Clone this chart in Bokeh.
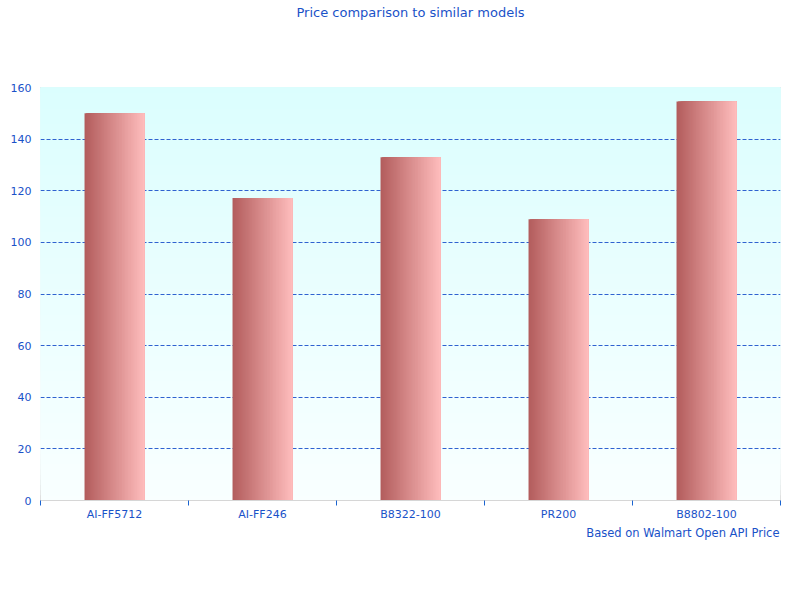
from bokeh.plotting import figure
from bokeh.models import (FactorRange, Range1d, LinearAxis, FixedTicker, Title,
                          BoxAnnotation, ColumnDataSource)
from bokeh.transform import dodge
from bokeh.embed import file_html
from bokeh.resources import INLINE

# ---- data ----
models = ["AI-FF5712", "AI-FF246", "B8322-100", "PR200", "B8802-100"]
prices = [150.0, 117.2, 133.0, 109.0, 154.6]
y_ticks = [0, 20, 40, 60, 80, 100, 120, 140, 160]
title_text = "Price comparison to similar models"
footer_text = "Based on Walmart Open API Price"

# ---- style ----
TEXT = "#1a52c8"
GRID = "#2f62d0"
FONT = "DejaVu Sans"
BAR_L = (178, 92, 92)
BAR_R = (255, 189, 189)
BG_TOP = (219, 254, 254)
BG_BOT = (249, 255, 255)


def mix(a, b, t):
    return "#%02x%02x%02x" % tuple(int(round(a[k] + (b[k] - a[k]) * t)) for k in range(3))


n = len(models)
p = figure(width=784, height=584,
           x_range=FactorRange(factors=models),
           y_range=Range1d(y_ticks[0], y_ticks[-1]),
           x_axis_location=None,
           toolbar_location=None, output_backend="svg",
           min_border_left=40, min_border_right=4,
           min_border_top=86, min_border_bottom=84,
           border_fill_color="white", background_fill_color="white",
           outline_line_color="#d6d6d6", outline_line_width=1)

# background vertical gradient (overlapping strips, drawn bottom first)
NB = 80
ymax = y_ticks[-1]
for i in range(NB):
    b = ymax * i / NB
    p.add_layout(BoxAnnotation(bottom=b, top=ymax,
                               fill_color=mix(BG_BOT, BG_TOP, (i + 0.5) / NB),
                               fill_alpha=1.0, line_color=None, level="image"))

# grid
p.xgrid.visible = False
p.ygrid.ticker = FixedTicker(ticks=y_ticks[1:-1])
p.ygrid.grid_line_color = GRID
p.ygrid.grid_line_dash = "4 2"
p.ygrid.grid_line_width = 1

# bars with horizontal gradient
src = ColumnDataSource(dict(model=models, price=prices))
W = 0.405
NS = 40
for i in range(NS):
    left = -W / 2 + i * W / NS
    off = (left + W / 2) / 2
    wid = W / 2 - left
    p.vbar(x=dodge("model", off, range=p.x_range), top="price", width=wid,
           source=src, fill_color=mix(BAR_L, BAR_R, (i + 0.5) / NS),
           line_color=None)

# y axis
ya = p.yaxis[0]
ya.ticker = FixedTicker(ticks=y_ticks)
ya.axis_line_color = None
ya.major_tick_line_color = None
ya.minor_tick_line_color = None
ya.major_tick_out = 0
ya.major_tick_in = 0
ya.major_label_standoff = 9
ya.major_label_text_font = FONT
ya.major_label_text_font_size = "11px"
ya.major_label_text_color = TEXT

# x axis: labels at category centres, ticks at boundaries (synthetic coords)
xa = LinearAxis(ticker=FixedTicker(ticks=[i + 0.5 for i in range(n)],
                                   minor_ticks=list(range(n + 1))),
                major_label_overrides={i + 0.5: m for i, m in enumerate(models)})
xa.axis_line_color = "#d6d6d6"
xa.major_tick_line_color = None
xa.major_tick_out = 0
xa.major_tick_in = 0
xa.minor_tick_line_color = "#1a64d0"
xa.minor_tick_in = 0
xa.minor_tick_out = 5
xa.major_label_standoff = 2
xa.major_label_text_font = FONT
xa.major_label_text_font_size = "11px"
xa.major_label_text_color = TEXT
p.add_layout(xa, "below")

# blank spacer between frame and title, pushes the title to the top edge
p.add_layout(Title(text=" ", text_font=FONT, text_font_size="1px",
                   standoff=63), "above")

# title and footer
p.add_layout(Title(text=title_text, align="center", text_font=FONT,
                   text_font_size="13px", text_font_style="normal",
                   text_color=TEXT, standoff=4), "above")
p.add_layout(Title(text=footer_text, align="right", text_font=FONT,
                   text_font_size="11.5px", text_font_style="normal",
                   text_color=TEXT, standoff=0, offset=1), "below")

open("out.html", "w").write(file_html(p, INLINE))
